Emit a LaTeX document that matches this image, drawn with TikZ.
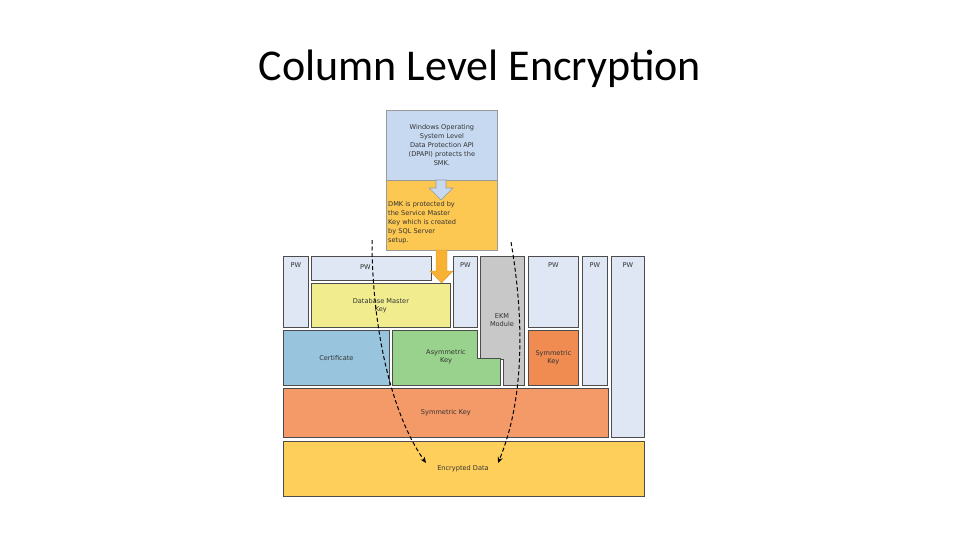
\documentclass[tikz,border=0pt]{standalone}
\usepackage{fontspec}
\setmainfont{Carlito}
\newfontfamily\boxfont{DejaVu Sans}
\usetikzlibrary{arrows.meta}

\definecolor{dpapiblue}{RGB}{198,217,241}
\definecolor{smkorange}{RGB}{253,200,82}
\definecolor{flowarrow}{RGB}{247,178,52}
\definecolor{pwblue}{RGB}{222,231,243}
\definecolor{dmkyellow}{RGB}{241,236,142}
\definecolor{certblue}{RGB}{152,196,222}
\definecolor{asymgreen}{RGB}{152,210,140}
\definecolor{ekmgray}{RGB}{200,200,200}
\definecolor{symorange}{RGB}{240,140,82}
\definecolor{symlarge}{RGB}{244,154,104}
\definecolor{encdata}{RGB}{255,207,92}

\tikzset{
  blk/.style={draw=black!70, line width=0.8pt, inner sep=0pt, anchor=north west,
    font=\boxfont\fontsize{6.6}{8}\selectfont, align=center, text=black!80},
  pwbox/.style={blk, fill=pwblue},
  pwtxt/.style={anchor=north, yshift=-6pt, inner sep=0pt, text=black!80,
    font=\boxfont\fontsize{6.6}{8}\selectfont},
  txt/.style={inner sep=0pt, font=\boxfont\fontsize{6.6}{8}\selectfont, align=center, text=black!80},
  keypath/.style={dash pattern=on 4pt off 2.5pt, line width=1pt, -{Stealth[length=6pt,width=5pt]}}
}

\begin{document}
\begin{tikzpicture}[x=1pt, y=-1pt]
\useasboundingbox (0,0) rectangle (960,540);

%title
\node[font=\fontsize{44}{50}\selectfont] (title) at (480,69) {Column Level Encryption};

%os and service master key
\node[blk, draw=black!40, fill=dpapiblue, minimum width=111pt, minimum height=70pt,
  font=\boxfont\fontsize{6.6}{9}\selectfont] (dpapi) at (386,110)
  {Windows Operating\\System Level\\Data Protection API\\(DPAPI) protects the\\SMK.};
\node[blk, draw=black!40, fill=smkorange, minimum width=111pt, minimum height=70pt] (smk) at (386,180) {};
\node[txt, anchor=north west, align=left, font=\boxfont\fontsize{6.6}{9}\selectfont] (smktxt) at (388,201)
  {DMK is protected by\\the Service Master\\Key which is created\\by SQL Server\\setup.};

%hollow arrow between the top boxes
\draw[draw=black!40, fill=dpapiblue, line width=0.6pt]
  (436,180) -- (446,180) -- (446,188) -- (453,188) -- (441,200) -- (429,188) -- (436,188) -- cycle;

%pw column row
\node[pwbox, minimum width=25pt, minimum height=71pt, label={[pwtxt]north:PW}] (pw1) at (283,256) {};
\node[pwbox, minimum width=120pt, minimum height=24pt, label={[pwtxt, yshift=-2pt, xshift=-6pt]north:PW}] (pw2) at (311,256) {};
\node[pwbox, minimum width=24pt, minimum height=71pt, label={[pwtxt]north:PW}] (pw3) at (453,256) {};
\node[pwbox, minimum width=50pt, minimum height=71pt, label={[pwtxt]north:PW}] (pw4) at (528,256) {};
\node[pwbox, minimum width=25pt, minimum height=129pt, label={[pwtxt]north:PW}] (pw5) at (582,256) {};
\node[pwbox, minimum width=33pt, minimum height=181pt, label={[pwtxt]north:PW}] (pw6) at (611,256) {};

\node[blk, fill=dmkyellow, minimum width=139pt, minimum height=44pt] (dmk) at (311,283) {Database Master\\Key};

%flow arrow into the database master key
\draw[draw=flowarrow!85!black, fill=flowarrow, line width=0.4pt]
  (436,250) -- (447,250) -- (447,271) -- (453,271) -- (441.5,283) -- (430,271) -- (436,271) -- cycle;

%ekm module and asymmetric key
\draw[draw=black!70, fill=ekmgray, line width=0.8pt]
  (480,256) -- (524,256) -- (524,385) -- (503,385) -- (503,359) -- (480,359) -- cycle;
\node[txt] (ekm) at (502,320) {EKM\\Module};
\draw[draw=black!70, fill=asymgreen, line width=0.8pt]
  (392,330) -- (477,330) -- (477,358) -- (500,358) -- (500,385) -- (392,385) -- cycle;
\node[txt] (asym) at (446,357) {Asymmetric\\Key};

\node[blk, fill=certblue, minimum width=106pt, minimum height=55pt] (cert) at (283,330) {Certificate};
\node[blk, fill=symorange, minimum width=50pt, minimum height=55pt] (symsmall) at (528,330) {Symmetric\\Key};

%bottom rows
\node[blk, fill=symlarge, minimum width=325pt, minimum height=49pt] (symkey) at (283,388) {Symmetric Key};
\node[blk, fill=encdata, minimum width=361pt, minimum height=55pt] (data) at (283,441) {};
\node[txt] (datatxt) at (463,469) {Encrypted Data};

%key paths
\coordinate (leftstart) at (372,240);
\coordinate (rightstart) at (511,242);
\draw[keypath] (leftstart) .. controls (372,330) and (392,415) .. ([shift={(-37,-6)}]datatxt.center);
\draw[keypath] (rightstart) .. controls (526,330) and (522,405) .. ([shift={(35,-6)}]datatxt.center);
\end{tikzpicture}
\end{document}
